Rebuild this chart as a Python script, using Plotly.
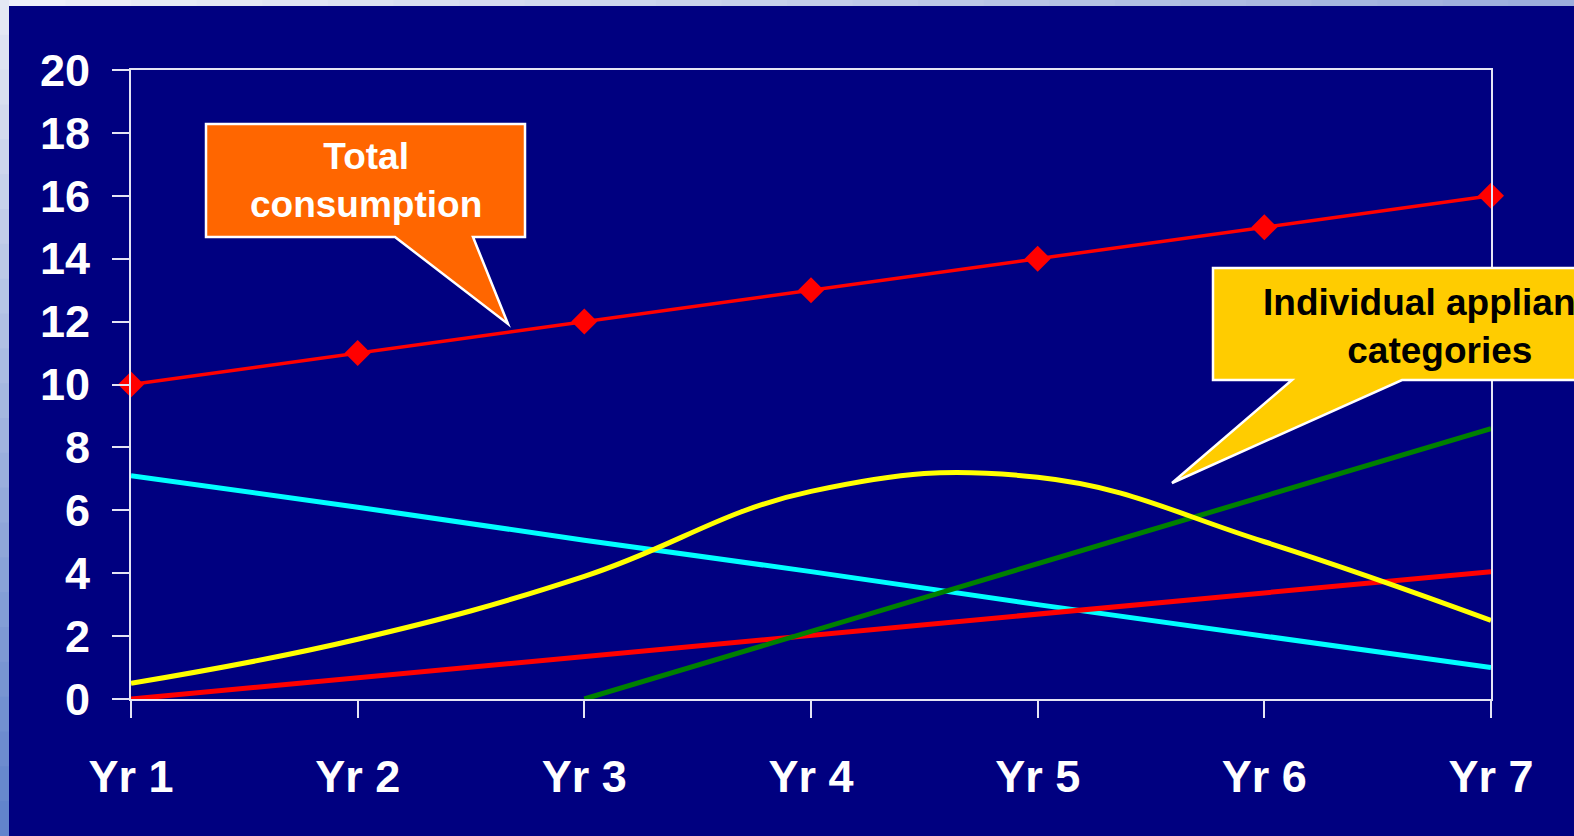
import plotly.graph_objects as go

# ---------------- data ----------------
years = ["Yr 1", "Yr 2", "Yr 3", "Yr 4", "Yr 5", "Yr 6", "Yr 7"]
total_consumption = [10, 11, 12, 13, 14, 15, 16]
cyan_series = [7.1, 6.1, 5.05, 4.05, 3.0, 2.0, 1.0]
yellow_series = [0.5, 1.9, 3.9, 6.6, 7.05, 5.0, 2.5]
red_series = [0.0, 0.67, 1.35, 2.03, 2.7, 3.38, 4.05]
green_series = [None, None, 0.0, 2.15, 4.3, 6.45, 8.6]
y_ticks = [0, 2, 4, 6, 8, 10, 12, 14, 16, 18, 20]

# ---------------- layout geometry (pixels) ----------------
W, H = 1574, 836
L, R, T, B = 131, 1491, 70, 699  # plot area edges


def px(x):
    return (x - L) / (R - L)


def py(y):
    return (B - y) / (B - T)


NAVY = "#000080"
AXIS = "#e4e4f4"
FONT = "Arial, Liberation Sans, sans-serif"

fig = go.Figure()

fig.add_trace(go.Scatter(x=years, y=cyan_series, mode="lines",
                         line=dict(color="#00ffff", width=5), showlegend=False))
fig.add_trace(go.Scatter(x=years, y=red_series, mode="lines",
                         line=dict(color="#ff0000", width=5), showlegend=False))
fig.add_trace(go.Scatter(x=years, y=green_series, mode="lines",
                         line=dict(color="#008000", width=5), showlegend=False))
fig.add_trace(go.Scatter(x=years, y=yellow_series, mode="lines",
                         line=dict(color="#ffff00", width=5, shape="spline", smoothing=1.2),
                         showlegend=False))
fig.add_trace(go.Scatter(x=years, y=total_consumption, mode="lines+markers",
                         line=dict(color="#ff0000", width=3.5),
                         marker=dict(symbol="diamond", size=20, color="#ff0000"),
                         cliponaxis=False, showlegend=False))

shapes = []
# decorative gradient strips (top and left edges)
n = 24
for i in range(n):
    f = i / (n - 1)
    r = int(0xee + (0x9c - 0xee) * f)
    g = int(0xf0 + (0xae - 0xf0) * f)
    b = int(0xf8 + (0xdc - 0xf8) * f)
    shapes.append(dict(type="rect", xref="paper", yref="paper",
                       x0=px(W * i / n), x1=px(W * (i + 1) / n + 1),
                       y0=py(6), y1=py(0), fillcolor=f"rgb({r},{g},{b})",
                       line=dict(width=0), layer="below"))
    r = int(0xe4 + (0x62 - 0xe4) * f)
    g = int(0xe8 + (0x84 - 0xe8) * f)
    b = int(0xf4 + (0xcc - 0xf4) * f)
    shapes.append(dict(type="rect", xref="paper", yref="paper",
                       x0=px(0), x1=px(9),
                       y0=py(H * (i + 1) / n + 1), y1=py(H * i / n), fillcolor=f"rgb({r},{g},{b})",
                       line=dict(width=0), layer="below"))


def callout(box, base_l, base_r, tip, fill):
    x0, y0, x1, y1 = box
    pts = [(x0, y0), (x1, y0), (x1, y1), (base_r, y1), tip, (base_l, y1), (x0, y1)]
    path = "M " + " L ".join(f"{px(a):.5f},{py(b):.5f}" for a, b in pts) + " Z"
    return dict(type="path", xref="paper", yref="paper", path=path,
                fillcolor=fill, line=dict(color="white", width=2.5), layer="above")


shapes.append(callout((206, 124, 525, 237), 395, 473, (508, 324), "#ff6600"))
shapes.append(callout((1213, 268, 1640, 380), 1292, 1402, (1172, 483), "#ffcc00"))

annotations = [
    dict(xref="paper", yref="paper", x=px(366), y=py(180), text="<b>Total<br>consumption</b>",
         showarrow=False, font=dict(family=FONT, size=37, color="white"),
         xanchor="center", yanchor="middle", align="center"),
    dict(xref="paper", yref="paper", x=px(1440), y=py(326),
         text="<b>Individual appliance<br>categories</b>",
         showarrow=False, font=dict(family=FONT, size=37, color="black"),
         xanchor="center", yanchor="middle", align="center"),
]

fig.update_layout(
    width=W, height=H,
    margin=dict(l=L, r=W - R, t=T, b=H - B, pad=0),
    paper_bgcolor=NAVY, plot_bgcolor=NAVY,
    shapes=shapes, annotations=annotations,
    showlegend=False,
    font=dict(family=FONT, color="white"),
)
fig.update_xaxes(
    type="category", range=[0, 6],
    tickvals=years, ticktext=[f"<b>{y}</b>" for y in years],
    showline=True, linecolor=AXIS, linewidth=2, mirror=True,
    ticks="outside", ticklen=17, tickcolor=AXIS, tickwidth=2,
    showgrid=False, zeroline=False,
    tickfont=dict(family=FONT, size=45, color="white"),
    ticklabelstandoff=20,
)
fig.update_yaxes(
    range=[0, 20], tickvals=y_ticks, ticktext=[f"<b>{v}</b>" for v in y_ticks],
    showline=True, linecolor=AXIS, linewidth=2, mirror=True,
    ticks="outside", ticklen=17, tickcolor=AXIS, tickwidth=2,
    showgrid=False, zeroline=False,
    tickfont=dict(family=FONT, size=45, color="white"),
    ticklabelstandoff=13,
)

fig.write_html("out.html", config={"displayModeBar": False},
               post_script="document.body.style.margin='0';document.body.style.overflow='hidden';")
